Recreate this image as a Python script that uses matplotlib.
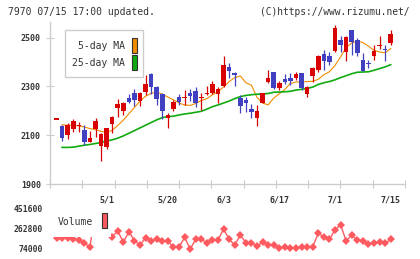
import numpy as np
import matplotlib.pyplot as plt
from matplotlib.patches import Rectangle

W, H = 420, 259
MONO = "DejaVu Sans Mono"

# daily candles, 2025/04/17 .. 2025/07/15 (index 0..60)
opens = [2164, 2137, 2101, 2126, 2137, 2120, 2072, 2126, 2056, 2052,
         2146, 2212, 2199, 2254, 2272, 2242, 2279, 2350, 2298, 2268,
         2172, 2208, 2258, 2252, 2272, 2280, 2251, 2269, 2273, 2268,
         2302, 2378, 2355, 2254, 2243, 2206, 2172, 2232, 2318, 2358,
         2294, 2329, 2335, 2336, 2355, 2269, 2342, 2366, 2434, 2424,
         2445, 2489, 2441, 2530, 2489, 2410, 2393, 2425, 2466, 2452, 2478]
highs = [2164, 2140, 2148, 2165, 2154, 2143, 2116, 2171, 2107, 2131,
         2179, 2247, 2238, 2270, 2288, 2276, 2346, 2355, 2303, 2273,
         2189, 2243, 2270, 2287, 2290, 2298, 2273, 2302, 2321, 2298,
         2424, 2396, 2359, 2264, 2257, 2227, 2223, 2273, 2369, 2359,
         2323, 2351, 2355, 2359, 2356, 2302, 2380, 2430, 2451, 2441,
         2551, 2505, 2505, 2533, 2500, 2438, 2410, 2471, 2505, 2471, 2530]
lows = [2164, 2077, 2085, 2115, 2113, 2061, 2071, 2093, 1995, 2042,
        2111, 2175, 2183, 2230, 2220, 2219, 2265, 2268, 2224, 2168,
        2131, 2199, 2223, 2223, 2239, 2216, 2205, 2266, 2268, 2230,
        2298, 2336, 2303, 2191, 2194, 2171, 2137, 2230, 2316, 2288,
        2284, 2311, 2307, 2328, 2284, 2257, 2318, 2358, 2366, 2387,
        2441, 2441, 2404, 2428, 2425, 2362, 2376, 2410, 2452, 2404, 2469]
closes = [2164, 2090, 2143, 2157, 2143, 2072, 2087, 2157, 2104, 2128,
          2174, 2227, 2234, 2236, 2243, 2273, 2311, 2299, 2247, 2200,
          2183, 2235, 2236, 2256, 2260, 2234, 2258, 2273, 2311, 2291,
          2387, 2363, 2346, 2220, 2230, 2195, 2198, 2271, 2333, 2292,
          2314, 2317, 2322, 2350, 2292, 2298, 2376, 2425, 2403, 2400,
          2541, 2469, 2503, 2482, 2437, 2363, 2392, 2444, 2469, 2449, 2516]

ma5 = [np.nan, 2143, 2141, 2141, 2138, 2134, 2127, 2123, 2116, 2111,
       2120, 2140, 2162, 2188, 2214, 2240, 2260, 2272, 2276, 2268,
       2256, 2245, 2232, 2224, 2222, 2230, 2242, 2250, 2266, 2278,
       2298, 2320, 2336, 2343, 2315, 2305, 2255, 2232, 2224, 2252,
       2270, 2288, 2312, 2318, 2318, 2320, 2321, 2329, 2348, 2360,
       2386, 2421, 2460, 2478, 2485, 2480, 2465, 2448, 2441, 2438, 2455]
ma25 = [np.nan, 2050, 2050, 2051, 2055, 2059, 2062, 2066, 2070, 2076,
        2081, 2088, 2097, 2108, 2119, 2130, 2141, 2152, 2163, 2172,
        2176, 2178, 2183, 2187, 2190, 2194, 2198, 2207, 2217, 2224,
        2232, 2240, 2250, 2258, 2263, 2266, 2268, 2269, 2271, 2276,
        2277, 2278, 2280, 2285, 2288, 2292, 2297, 2308, 2315, 2320,
        2327, 2336, 2344, 2352, 2358, 2359, 2360, 2366, 2373, 2380, 2389]

volume = [175000, 178000, 176000, 172000, 159000, 130000, 93000, 451600, 300000, 240000,
          190000, 244000, 137000, 237600, 152700, 111800, 181000, 149500, 165300, 149500,
          149500, 89700, 89700, 184100, 74000, 165300, 165300, 133800, 159000, 159000,
          262800, 165300, 111800, 206200, 133800, 133800, 102300, 137000, 111800, 111800,
          80300, 96000, 86600, 80300, 89700, 89700, 96000, 221900, 190400, 165300,
          253400, 303700, 149500, 206200, 159000, 152700, 121200, 127500, 143200, 127500, 165300]

date_pos = [9, 20, 30, 40, 50, 60]
date_labels = ["5/1", "5/20", "6/3", "6/17", "7/1", "7/15"]
price_ticks = [1900, 2100, 2300, 2500]
vol_ticks = [74000, 262800, 451600]

RED = "#d80000"
BLUE = "#4040c0"
ORANGE = "#f08c00"
GREEN = "#11aa11"
VOLC = "#ff5a5f"
GRAY = "#cccccc"
TXT = "#333333"


def fig_rect(x0, y0, x1, y1):
    # pixel box (top-left origin) -> figure fraction
    return (x0 / W, 1 - y1 / H), (x1 - x0) / W, (y1 - y0) / H


x = np.arange(len(closes))
o = np.array(opens)
c = np.array(closes)
up = c >= o
cols = np.where(up, RED, BLUE)

fig = plt.figure(figsize=(W / 100, H / 100), dpi=100)
ax = fig.add_axes([50 / W, 1 - 184 / H, 355 / W, 162 / H])
axv = fig.add_axes([50 / W, 1 - 253 / H, 355 / W, 48 / H])

xlim = (-1.17, 62.57)

# moving averages sit behind the candles
ax.plot(x, ma5, color=ORANGE, linewidth=0.8, zorder=1.5)
ax.plot(x, ma25, color=GREEN, linewidth=1.2, zorder=1.5)

# candles
ax.vlines(x, lows, highs, colors=cols, linewidth=0.9, zorder=2)
body = np.maximum(np.abs(c - o), 5)
ax.bar(x, body, bottom=np.minimum(o, c), width=0.82, color=cols, linewidth=0, zorder=3)

ax.set_xlim(*xlim)
ax.set_ylim(1900, 2564)
for s in ["top", "right"]:
    ax.spines[s].set_visible(False)
for s in ["left", "bottom"]:
    ax.spines[s].set_color(GRAY)
    ax.spines[s].set_linewidth(1)

ax.set_yticks(price_ticks)
ax.tick_params(axis="y", direction="inout", length=6, width=0.8, color=GRAY,
               labelsize=6, pad=3.5, labelcolor=TXT)
ax.set_xticks(date_pos)
ax.set_xticklabels(date_labels)
ax.set_xticks(np.linspace(xlim[0], xlim[1], 12), minor=True)
ax.tick_params(axis="x", which="major", length=0, labelsize=6, pad=8, labelcolor=TXT)
ax.tick_params(axis="x", which="minor", direction="inout", length=6, width=0.8, color=GRAY)
for lab in ax.get_yticklabels() + ax.get_xticklabels():
    lab.set_family(MONO)
    lab.set_fontweight("bold")

# volume panel
axv.plot(x, volume, "-D", color=VOLC, linewidth=1, markersize=4, markeredgewidth=0)
axv.set_xlim(*xlim)
axv.set_ylim(36240, 489360)
for s in axv.spines.values():
    s.set_visible(False)
axv.set_xticks([])
axv.set_yticks(vol_ticks)
axv.set_yticklabels([str(v) for v in vol_ticks])
axv.tick_params(axis="y", length=0, labelsize=5.8, pad=5, labelcolor=TXT)
for lab in axv.get_yticklabels():
    lab.set_family(MONO)
    lab.set_fontweight("bold")

# price legend
xy, w, h = fig_rect(65, 30, 143, 77)
fig.add_artist(Rectangle(xy, w, h, transform=fig.transFigure, facecolor="white",
                         edgecolor=GRAY, linewidth=1, zorder=5))
for yc, name, col, (sy0, sy1) in [(46, "5-day MA", ORANGE, (37.5, 53)),
                                   (62.5, "25-day MA", GREEN, (54.5, 70))]:
    fig.text(125 / W, 1 - yc / H, name, ha="right", va="center", family=MONO,
             fontsize=7, color=TXT, zorder=6)
    xy, w, h = fig_rect(131.5, sy0, 137, sy1)
    fig.add_artist(Rectangle(xy, w, h, transform=fig.transFigure, facecolor=col,
                             edgecolor=TXT, linewidth=0.8, zorder=6))

# volume legend (white box hides the line under it)
xy, w, h = fig_rect(52, 205, 111, 237)
fig.add_artist(Rectangle(xy, w, h, transform=fig.transFigure, facecolor="white",
                         edgecolor="none", zorder=5))
fig.text(58 / W, 1 - 222 / H, "Volume", ha="left", va="center", family=MONO,
         fontsize=7, color=TXT, zorder=6)
xy, w, h = fig_rect(101.5, 213, 107, 228)
fig.add_artist(Rectangle(xy, w, h, transform=fig.transFigure, facecolor=VOLC,
                         edgecolor=TXT, linewidth=0.8, zorder=6))

fig.text(8 / W, 1 - 12 / H, "7970 07/15 17:00 updated.", ha="left", va="center",
         family=MONO, fontsize=7, color=TXT)
fig.text(409 / W, 1 - 12 / H, "(C)https://www.rizumu.net/", ha="right", va="center",
         family=MONO, fontsize=6.9, color=TXT)

fig.savefig("out.png", dpi=100)
